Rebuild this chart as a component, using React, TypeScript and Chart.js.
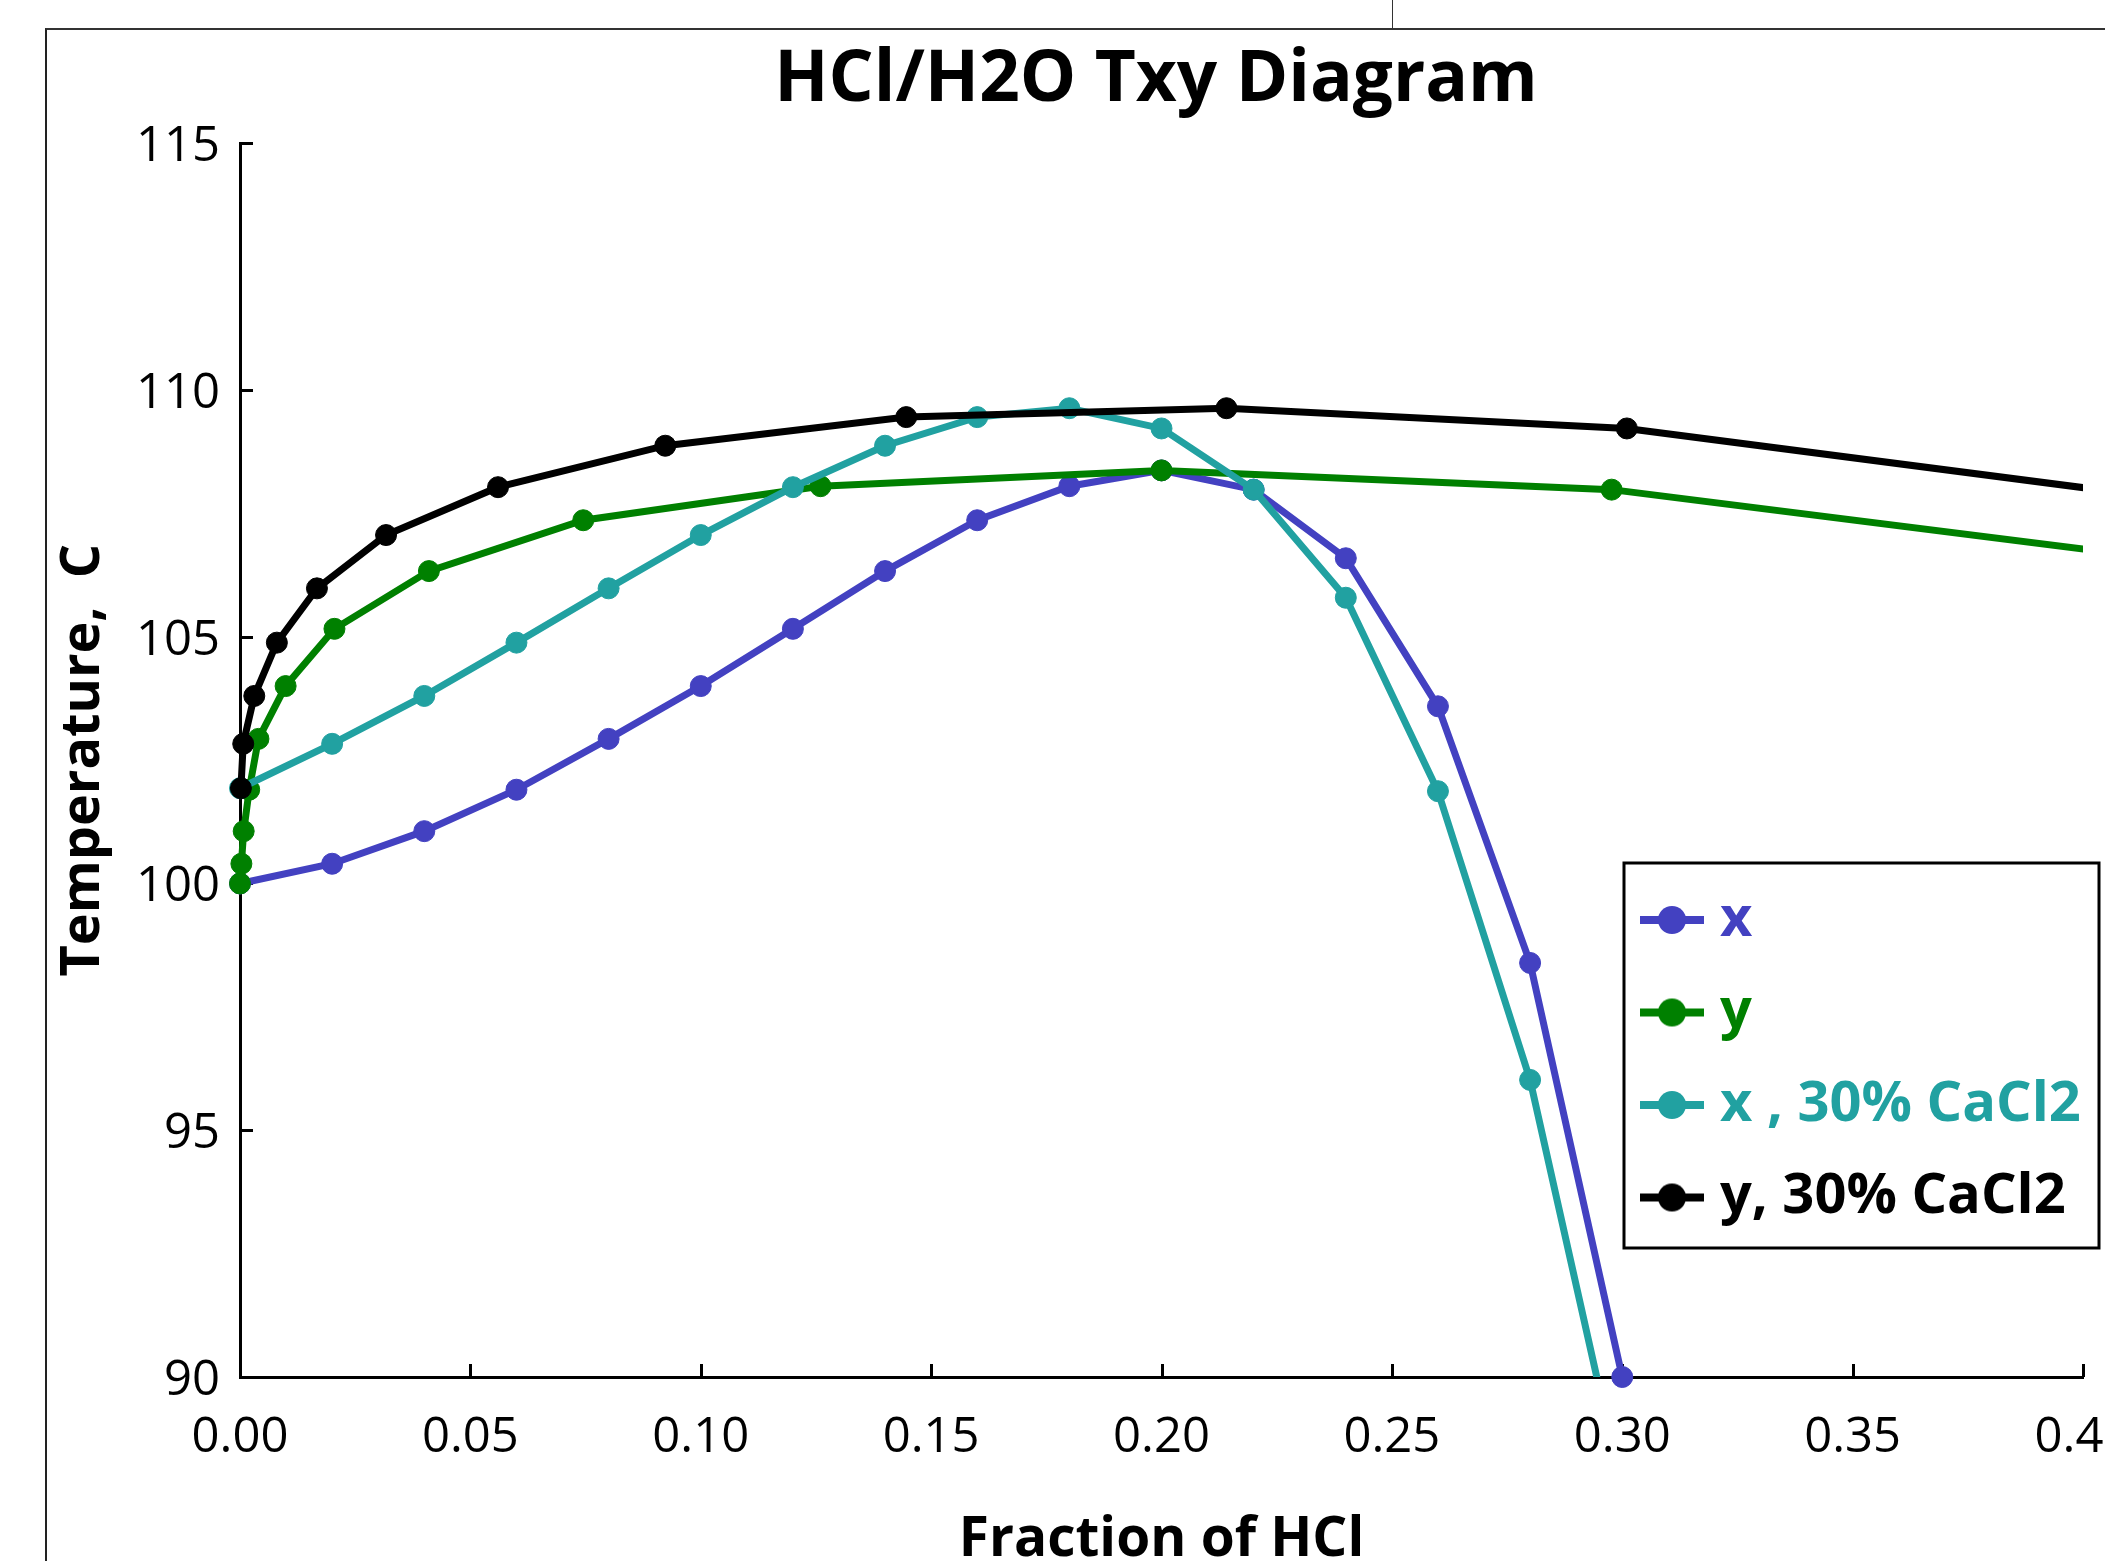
import React, { useEffect, useRef } from 'react';
import { Chart, registerables } from 'chart.js';

Chart.register(...registerables);

// ---------- text ----------
const TITLE = 'HCl/H2O Txy Diagram';
const X_TITLE = 'Fraction of HCl';
const Y_TITLE = 'Temperature,  C';
const SERIES_NAMES = ['x', 'y', 'x , 30% CaCl2', 'y, 30% CaCl2'];
const SERIES_COLORS = ['#4341C1', '#008000', '#21A1A1', '#000000'];

// ---------- ticks ----------
const X_TICKS = [0, 0.05, 0.1, 0.15, 0.2, 0.25, 0.3, 0.35, 0.4];
const X_TICK_LABELS = ['0.00', '0.05', '0.10', '0.15', '0.20', '0.25', '0.30', '0.35', '0.40'];
const Y_TICKS = [90, 95, 100, 105, 110, 115];
const Y_TICK_LABELS = ['90', '95', '100', '105', '110', '115'];

// ---------- data ----------
// x (liquid, HCl/H2O)
const X_LIQ_FRAC = [0, 0.02, 0.04, 0.06, 0.08, 0.10, 0.12, 0.14, 0.16, 0.18, 0.20, 0.22, 0.24, 0.26, 0.28, 0.30];
const X_LIQ_TEMP = [100.0, 100.4, 101.06, 101.9, 102.93, 104.0, 105.16, 106.33, 107.36, 108.05, 108.37, 107.98, 106.59, 103.59, 98.39, 90.0];
// y (vapour, HCl/H2O)
const Y_VAP_FRAC = [0.0, 0.0003, 0.0008, 0.002, 0.004, 0.0099, 0.0205, 0.041, 0.0745, 0.126, 0.2, 0.2977, 0.416];
const Y_VAP_TEMP = [100.0, 100.4, 101.06, 101.9, 102.93, 104.0, 105.16, 106.33, 107.36, 108.05, 108.37, 107.98, 106.59];
// x , 30% CaCl2
const X_CA_FRAC = [0, 0.02, 0.04, 0.06, 0.08, 0.10, 0.12, 0.14, 0.16, 0.18, 0.20, 0.22, 0.24, 0.26, 0.28, 0.30];
const X_CA_TEMP = [101.93, 102.83, 103.8, 104.88, 105.98, 107.06, 108.03, 108.87, 109.45, 109.63, 109.22, 107.98, 105.79, 101.87, 96.02, 87.7];
// y, 30% CaCl2
const Y_CA_FRAC = [0.0002, 0.0007, 0.0031, 0.008, 0.0167, 0.0317, 0.056, 0.0923, 0.1446, 0.2141, 0.301, 0.4034];
const Y_CA_TEMP = [101.93, 102.83, 103.8, 104.88, 105.98, 107.06, 108.03, 108.87, 109.45, 109.63, 109.22, 107.98];

const SERIES_FRAC = [X_LIQ_FRAC, Y_VAP_FRAC, X_CA_FRAC, Y_CA_FRAC];
const SERIES_TEMP = [X_LIQ_TEMP, Y_VAP_TEMP, X_CA_TEMP, Y_CA_TEMP];

const FONT = "'Open Sans', 'Noto Sans', sans-serif";

export default function App() {
  const ref = useRef<HTMLCanvasElement>(null);

  useEffect(() => {
    const canvas = ref.current;
    if (!canvas) return;
    Chart.defaults.font.family = FONT;
    Chart.defaults.color = '#000';

    const makeMarker = (color: string) => {
      const c = document.createElement('canvas');
      c.width = 64;
      c.height = 32;
      const g = c.getContext('2d')!;
      g.strokeStyle = color;
      g.lineWidth = 8;
      g.beginPath();
      g.moveTo(0, 16);
      g.lineTo(64, 16);
      g.stroke();
      g.fillStyle = color;
      g.beginPath();
      g.arc(32, 16, 14, 0, Math.PI * 2);
      g.fill();
      return c;
    };
    const markers = SERIES_COLORS.map(makeMarker);

    const clips: any[] = [
      false,
      { left: false, top: false, right: 0, bottom: false },
      { left: false, top: false, right: false, bottom: 0 },
      { left: false, top: false, right: 0, bottom: false },
    ];

    const datasets = SERIES_NAMES.map((name, i) => ({
      label: name,
      data: SERIES_FRAC[i].map((x, j) => ({ x, y: SERIES_TEMP[i][j] })),
      borderColor: SERIES_COLORS[i],
      backgroundColor: SERIES_COLORS[i],
      pointBackgroundColor: SERIES_COLORS[i],
      pointBorderColor: SERIES_COLORS[i],
      borderWidth: 7,
      pointRadius: 10.5,
      pointBorderWidth: 1,
      pointHoverRadius: 10.5,
      tension: 0,
      order: 4 - i,
      clip: clips[i],
    }));

    const helper = {
      id: 'txyHelper',
      afterLayout(chart: any) {
        const ca = chart.chartArea;
        const tb = chart.titleBlock;
        if (tb) {
          tb.left = ca.left - 11;
          tb.right = ca.right;
          tb.width = tb.right - tb.left;
        }
        const lg = chart.legend;
        if (lg) {
          lg.left = 1567.5;
          lg.top = 825.5;
          lg.width = 560;
          lg.height = 460;
          lg.right = lg.left + lg.width;
          lg.bottom = lg.top + lg.height;
        }
      },
      beforeDatasetsDraw(chart: any) {
        const { ctx, chartArea, scales } = chart;
        const xs = scales.x;
        const ys = scales.y;
        ctx.save();
        ctx.strokeStyle = '#000';
        ctx.lineWidth = 3;
        ctx.beginPath();
        xs.ticks.forEach((t: any) => {
          const px = Math.round(xs.getPixelForValue(t.value)) + 0.5;
          if (px <= chartArea.left + 2) return;
          ctx.moveTo(px, chartArea.bottom);
          ctx.lineTo(px, chartArea.bottom - 13);
        });
        ys.ticks.forEach((t: any) => {
          const py = Math.round(ys.getPixelForValue(t.value)) + 0.5;
          if (py >= chartArea.bottom - 2) return;
          ctx.moveTo(chartArea.left, py);
          ctx.lineTo(chartArea.left + 13, py);
        });
        ctx.stroke();
        ctx.restore();
      },
      afterDraw(chart: any) {
        const ctx = chart.ctx;
        ctx.save();
        ctx.strokeStyle = '#000';
        ctx.lineWidth = 3;
        ctx.strokeRect(1576, 833, 475, 385);
        ctx.restore();
      },
    };

    const chart = new Chart(canvas, {
      type: 'line',
      data: { datasets: datasets as any },
      options: {
        responsive: false,
        animation: false,
        devicePixelRatio: 1,
        layout: { padding: { left: 0, top: 0, right: 115, bottom: 0 } },
        plugins: {
          title: {
            display: true,
            text: TITLE,
            color: '#000',
            font: { size: 71, weight: 'bold', family: FONT },
            padding: { top: 8, bottom: 20 },
          },
          legend: {
            display: true,
            position: 'chartArea' as any,
            align: 'start',
            labels: {
              usePointStyle: true,
              pointStyleWidth: 40,
              padding: 36.5,
              font: { size: 56, weight: 'bold', family: FONT },
              generateLabels: (ch: any) =>
                ch.data.datasets.map((ds: any, i: number) => ({
                  text: ds.label,
                  fontColor: SERIES_COLORS[i],
                  fillStyle: SERIES_COLORS[i],
                  strokeStyle: SERIES_COLORS[i],
                  lineWidth: 0,
                  pointStyle: markers[i],
                  hidden: false,
                  datasetIndex: i,
                })),
            },
          },
          tooltip: { enabled: false },
        },
        scales: {
          x: {
            type: 'linear',
            min: 0,
            max: 0.4,
            afterBuildTicks: (s: any) => {
              s.ticks = X_TICKS.map((v) => ({ value: v }));
            },
            afterFit: (s: any) => {
              s.height = 253;
            },
            grid: { display: false, drawTicks: false },
            border: { display: true, color: '#000', width: 3 },
            ticks: {
              color: '#000',
              font: { size: 49, family: FONT },
              padding: 32,
              maxRotation: 0,
              minRotation: 0,
              autoSkip: false,
              callback: (_v: any, i: number) => X_TICK_LABELS[i],
            },
            title: {
              display: true,
              text: X_TITLE,
              color: '#000',
              font: { size: 55, weight: 'bold', family: FONT },
              padding: { top: 0, bottom: 57 },
            },
          },
          y: {
            type: 'linear',
            min: 90,
            max: 115,
            afterBuildTicks: (s: any) => {
              s.ticks = Y_TICKS.map((v) => ({ value: v }));
            },
            afterFit: (s: any) => {
              s.width = 192;
            },
            grid: { display: false, drawTicks: false },
            border: { display: true, color: '#000', width: 3 },
            ticks: {
              color: '#000',
              font: { size: 49, family: FONT },
              padding: 20,
              labelOffset: 4,
              autoSkip: false,
              callback: (_v: any, i: number) => Y_TICK_LABELS[i],
            },
            title: {
              display: true,
              text: Y_TITLE,
              color: '#000',
              font: { size: 54, weight: 'bold', family: FONT },
              padding: { top: 3, bottom: 0 },
            },
          },
        },
      } as any,
      plugins: [helper],
    });

    return () => chart.destroy();
  }, []);

  return (
    <div
      style={{
        position: 'absolute',
        left: 0,
        top: 0,
        width: 2105,
        height: 1561,
        overflow: 'hidden',
        background: '#fff',
      }}
    >
      <div style={{ position: 'absolute', left: 1392, top: 0, width: 1, height: 28, background: '#333' }} />
      <div
        style={{
          position: 'absolute',
          left: 45,
          top: 28,
          width: 2300,
          height: 1800,
          borderTop: '2px solid #333',
          borderLeft: '2px solid #222',
        }}
      />
      <canvas
        ref={ref}
        width={2150}
        height={1600}
        style={{ position: 'absolute', left: 48, top: 30, width: 2150, height: 1600 }}
      />
    </div>
  );
}
